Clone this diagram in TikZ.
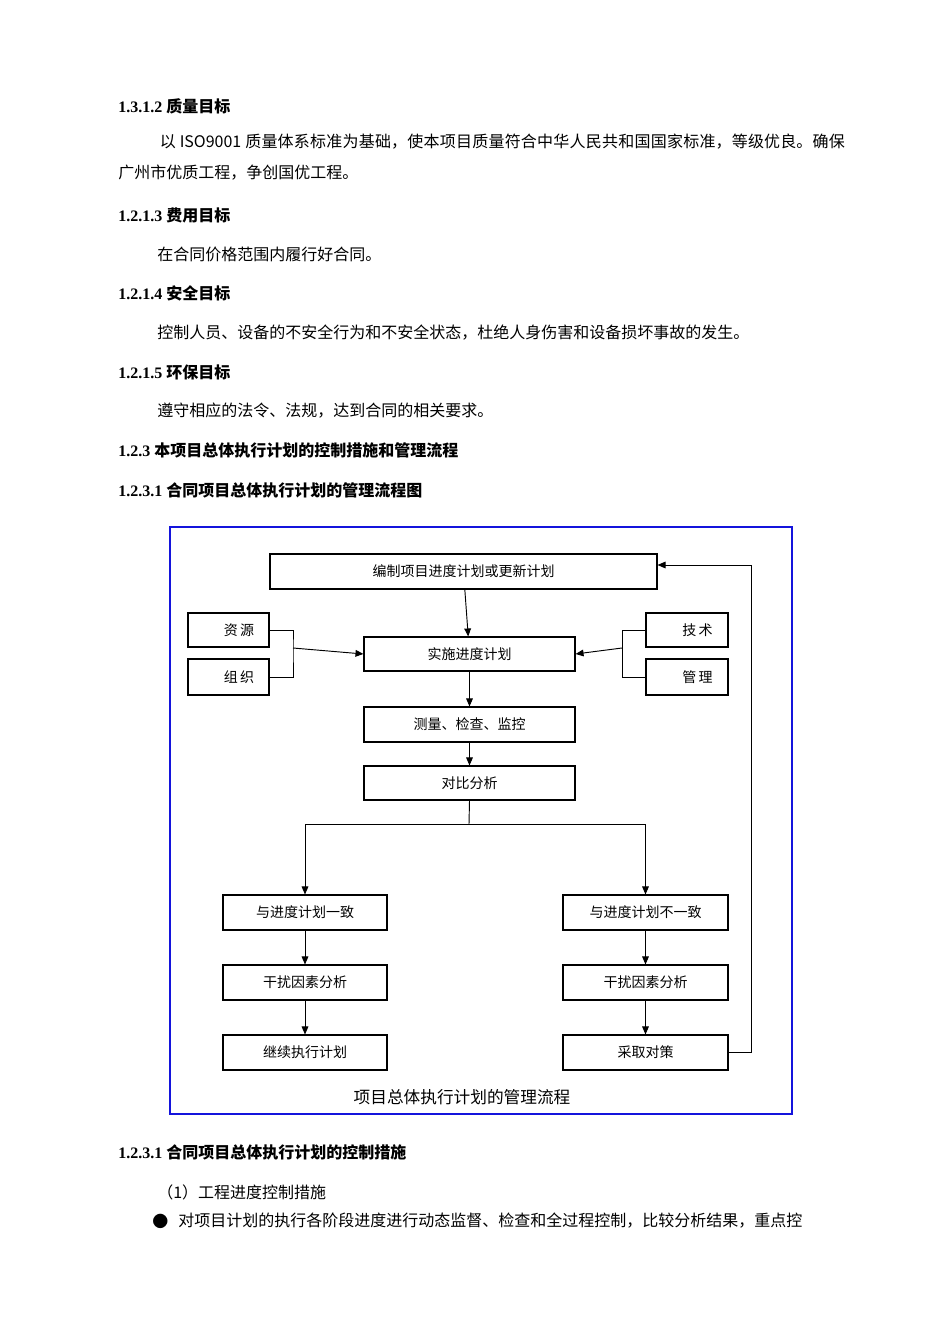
\documentclass[tikz,border=0pt]{standalone}
\usepackage{fontspec}
\setmainfont{Liberation Serif}
\newfontfamily\cjk{Noto Sans CJK SC}
\usetikzlibrary{arrows.meta}
\newcommand{\hdx}[2]{{\fontsize{12}{14}\selectfont\bfseries #1 {\cjk\bfseries #2}}}
\newcommand{\bxn}[6]{\node[bx,minimum width={(#4-#2)*0.75pt},minimum height={(#5-#3)*0.75pt}] (#1) at ({(#2+#4)/2},{(#3+#5)/2}) {#6};}
\tikzset{
 px/.style={x=0.75pt,y=-0.75pt},
 hd/.style={anchor=west,inner sep=0pt},
 para/.style={anchor=north west,inner sep=0pt,text width=545pt,align=justify,font=\cjk\fontsize{12}{23.25}\selectfont},
 bx/.style={draw,line width=0.8pt,inner sep=0pt,font=\cjk\fontsize{10.5}{12}\selectfont},
 ar/.style={draw,line width=0.7pt,-{Triangle[length=6pt,width=5pt]}},
 ln/.style={draw,line width=0.7pt}
}
\begin{document}
\begin{tikzpicture}[px]
\useasboundingbox (0,0) rectangle (950,1344);
\node[hd] (h1) at (118,106) {\hdx{1.3.1.2}{质量目标}};
\node[para] (p1) at (118,134) {\XeTeXlinebreaklocale "zh"\XeTeXlinebreakskip=0pt plus 1pt\relax\hspace*{2.6em}以 ISO9001 质量体系标准为基础，使本项目质量符合中华人民共和国国家标准，等级优良。确保广州市优质工程，争创国优工程。};
\node[hd] (h2) at (118,215) {\hdx{1.2.1.3}{费用目标}};
\node[hd,font=\cjk\fontsize{12}{14}\selectfont] (p2) at (157,254) {在合同价格范围内履行好合同。};
\node[hd] (h3) at (118,293) {\hdx{1.2.1.4}{安全目标}};
\node[hd,font=\cjk\fontsize{12}{14}\selectfont] (p3) at (157,333) {控制人员、设备的不安全行为和不安全状态，杜绝人身伤害和设备损坏事故的发生。};
\node[hd] (h4) at (118,372) {\hdx{1.2.1.5}{环保目标}};
\node[hd,font=\cjk\fontsize{12}{14}\selectfont] (p4) at (157,411) {遵守相应的法令、法规，达到合同的相关要求。};
\node[hd] (h5) at (118,450) {\hdx{1.2.3}{本项目总体执行计划的控制措施和管理流程}};
\node[hd] (h6) at (118,490) {\hdx{1.2.3.1}{合同项目总体执行计划的管理流程图}};
\node[hd] (h7) at (118,1152) {\hdx{1.2.3.1}{合同项目总体执行计划的控制措施}};
\node[hd,font=\cjk\fontsize{12}{14}\selectfont] (p5) at (157,1192) {（1）工程进度控制措施};
\node[hd,font=\cjk\fontsize{12}{14}\selectfont] (bul) at (152,1221) {●};
\node[hd,font=\cjk\fontsize{12}{14}\selectfont] (p6) at (178,1221) {对项目计划的执行各阶段进度进行动态监督、检查和全过程控制，比较分析结果，重点控};
\draw[line width=1.6pt,draw={rgb,255:red,20;green,20;blue,220}] (170,527) rectangle (792,1114);
\bxn{top}{270}{554}{657}{589}{编制项目进度计划或更新计划}
\bxn{zy}{188}{613}{269}{647}{\hspace*{1.5em}资\,源}
\bxn{zz}{188}{659}{269}{695}{\hspace*{1.5em}组\,织}
\bxn{ss}{364}{637}{575}{671}{实施进度计划}
\bxn{js}{646}{613}{728}{647}{\hspace*{1.5em}技\,术}
\bxn{gl}{646}{659}{728}{695}{\hspace*{1.5em}管\,理}
\bxn{cl}{364}{707}{575}{742}{测量、检查、监控}
\bxn{db}{364}{766}{575}{800}{对比分析}
\bxn{yz}{223}{895}{387}{930}{与进度计划一致}
\bxn{gr1}{223}{965}{387}{1000}{干扰因素分析}
\bxn{jx}{223}{1035}{387}{1070}{继续执行计划}
\bxn{byz}{563}{895}{728}{930}{与进度计划不一致}
\bxn{gr2}{563}{965}{728}{1000}{干扰因素分析}
\bxn{cq}{563}{1035}{728}{1070}{采取对策}
\coordinate (lb) at (293,648);
\coordinate (rb) at (622,648);
\draw[ln] (zy.east) -| (lb) |- (zz.east);
\draw[ln] (js.west) -| (rb) |- (gl.west);
\draw[ar] (lb) -- (ss.west);
\draw[ar] (rb) -- (ss.east);
\draw[ar] (top) -- (ss);
\draw[ar] (ss) -- (cl);
\draw[ar] (cl) -- (db);
\coordinate (sp) at (469,824);
\draw[ln] (db.south) -- (sp);
\draw[ar] (sp) -| (yz.north);
\draw[ar] (sp) -| (byz.north);
\draw[ar] (yz) -- (gr1);
\draw[ar] (gr1) -- (jx);
\draw[ar] (byz) -- (gr2);
\draw[ar] (gr2) -- (cq);
\coordinate (fb) at (751,565);
\draw[ar] (cq.east) -| (fb) -- (top.east |- fb);
\node[font=\cjk\fontsize{12.5}{14}\selectfont,inner sep=0pt] (cap) at (462,1097) {项目总体执行计划的管理流程};
\end{tikzpicture}
\end{document}
